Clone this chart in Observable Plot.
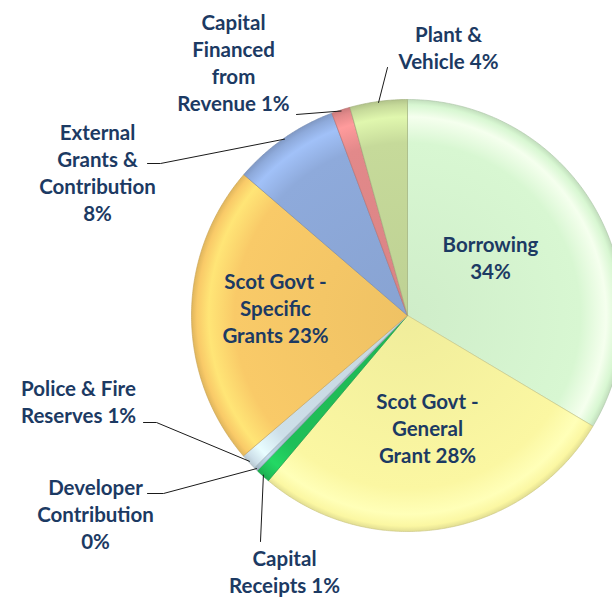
<!DOCTYPE html>
<html><head><meta charset="utf-8">
<script src="https://cdn.jsdelivr.net/npm/d3@7"></script>
<script src="https://cdn.jsdelivr.net/npm/@observablehq/plot@0.6"></script>
<style>html,body{margin:0;padding:0;background:#fff;overflow:hidden}</style>
</head><body><div id="chart"></div>
<script>
// ---- data ----
const categories = ["Borrowing","Scot Govt - General Grant","Capital Receipts","Developer Contribution","Police & Fire Reserves","Scot Govt - Specific Grants","External Grants & Contribution","Capital Financed from Revenue","Plant & Vehicle"];
const values = [33.6, 27.6, 1.1, 0.3, 1.2, 22.6, 8.0, 1.4, 4.3];
const labelNames = ["Borrowing\n", "Scot Govt -\nGeneral\nGrant ", "Capital\nReceipts ", "Developer\nContribution\n", "Police & Fire\nReserves ", "Scot Govt -\nSpecific\nGrants ", "External\nGrants &\nContribution\n", "Capital\nFinanced\nfrom\nRevenue ", "Plant &\nVehicle "];

// ---- styles / layout ----
const colors = ["#d8f7d2", "#fbf7a2", "#1fbf58", "#a9c0cf", "#cddfe9", "#f9ca68", "#8eaadb", "#e2898a", "#c6da9a"];
const center = {x: 407, y: 315};
const R = 216;
const labelPos = [[490, 256], [427, 427], [284, 570], [95, 513], [78, 400], [275, 307], [97, 171], [233, 61], [448, 46]];
// elbow points of leader lines (label side), null = label inside slice
const leaderStart = [null, null, [[260, 541]], [[147, 493], [163, 493]], [[143, 422], [156, 422]], null, [[147, 163], [160, 163]], [[296, 114]], [[387, 67]]];

const total = d3.sum(values);
const arcs = d3.pie().sort(null).value(d => d)(values);
const pt = (a, r) => ({x: center.x + r * Math.sin(a), y: center.y - r * Math.cos(a)});

const slices = [];
arcs.forEach((a, i) => {
  const n = Math.max(2, Math.ceil((a.endAngle - a.startAngle) / 0.01));
  slices.push({name: categories[i], i, ...center});
  for (let k = 0; k <= n; k++) {
    const p = pt(a.startAngle + (a.endAngle - a.startAngle) * k / n, R);
    slices.push({name: categories[i], i, ...p});
  }
  slices.push({name: categories[i], i, ...center});
});

const labels = categories.map((c, i) => ({
  name: c, x: labelPos[i][0], y: labelPos[i][1],
  text: labelNames[i] + Math.round(values[i] / total * 100) + "%"
}));

const leaders = [];
arcs.forEach((a, i) => {
  if (!leaderStart[i]) return;
  leaderStart[i].forEach(p => leaders.push({name: categories[i], x: p[0], y: p[1]}));
  const e = pt((a.startAngle + a.endAngle) / 2, R - 1);
  leaders.push({name: categories[i], ...e});
});

const plot = Plot.plot({
  width: 612, height: 597, margin: 0,
  x: {domain: [0, 612], range: [0, 612], axis: null},
  y: {domain: [0, 597], range: [0, 597], axis: null},
  color: {type: "identity"},
  style: {fontFamily: "Lato, 'Open Sans', sans-serif", background: "#fff", overflow: "hidden"},
  marks: [
    Plot.line(slices, {x: "x", y: "y", z: "name", fill: d => `url(#grad${d.i})`, stroke: d => d3.color(colors[d.i]).darker(0.6).formatHex(), strokeWidth: 0.8, strokeOpacity: 0.8, curve: "linear-closed"}),
    Plot.line(leaders, {x: "x", y: "y", z: "name", stroke: "#1a1a1a", strokeWidth: 1}),
    Plot.text(labels, {x: "x", y: "y", text: "text", fill: "#1c3a63", fontSize: 20.5, fontWeight: "bold", lineHeight: 1.32})
  ]
});

const svg = d3.select(plot);
const defs = svg.insert("defs", ":first-child");
const xs = plot.scale("x"), ys = plot.scale("y");
colors.forEach((c, i) => {
  const g = defs.append("radialGradient").attr("id", `grad${i}`)
    .attr("gradientUnits", "userSpaceOnUse")
    .attr("cx", xs.apply(center.x)).attr("cy", ys.apply(center.y)).attr("r", R);
  const base = d3.color(c);
  const stops = [[0, base.darker(0.12)], [0.8, base], [0.92, base.brighter(0.35)], [0.975, base], [1, base.darker(0.3)]];
  stops.forEach(([o, col]) => g.append("stop").attr("offset", o).attr("stop-color", col.formatHex()));
});
document.getElementById("chart").appendChild(plot);
</script>
</body></html>
